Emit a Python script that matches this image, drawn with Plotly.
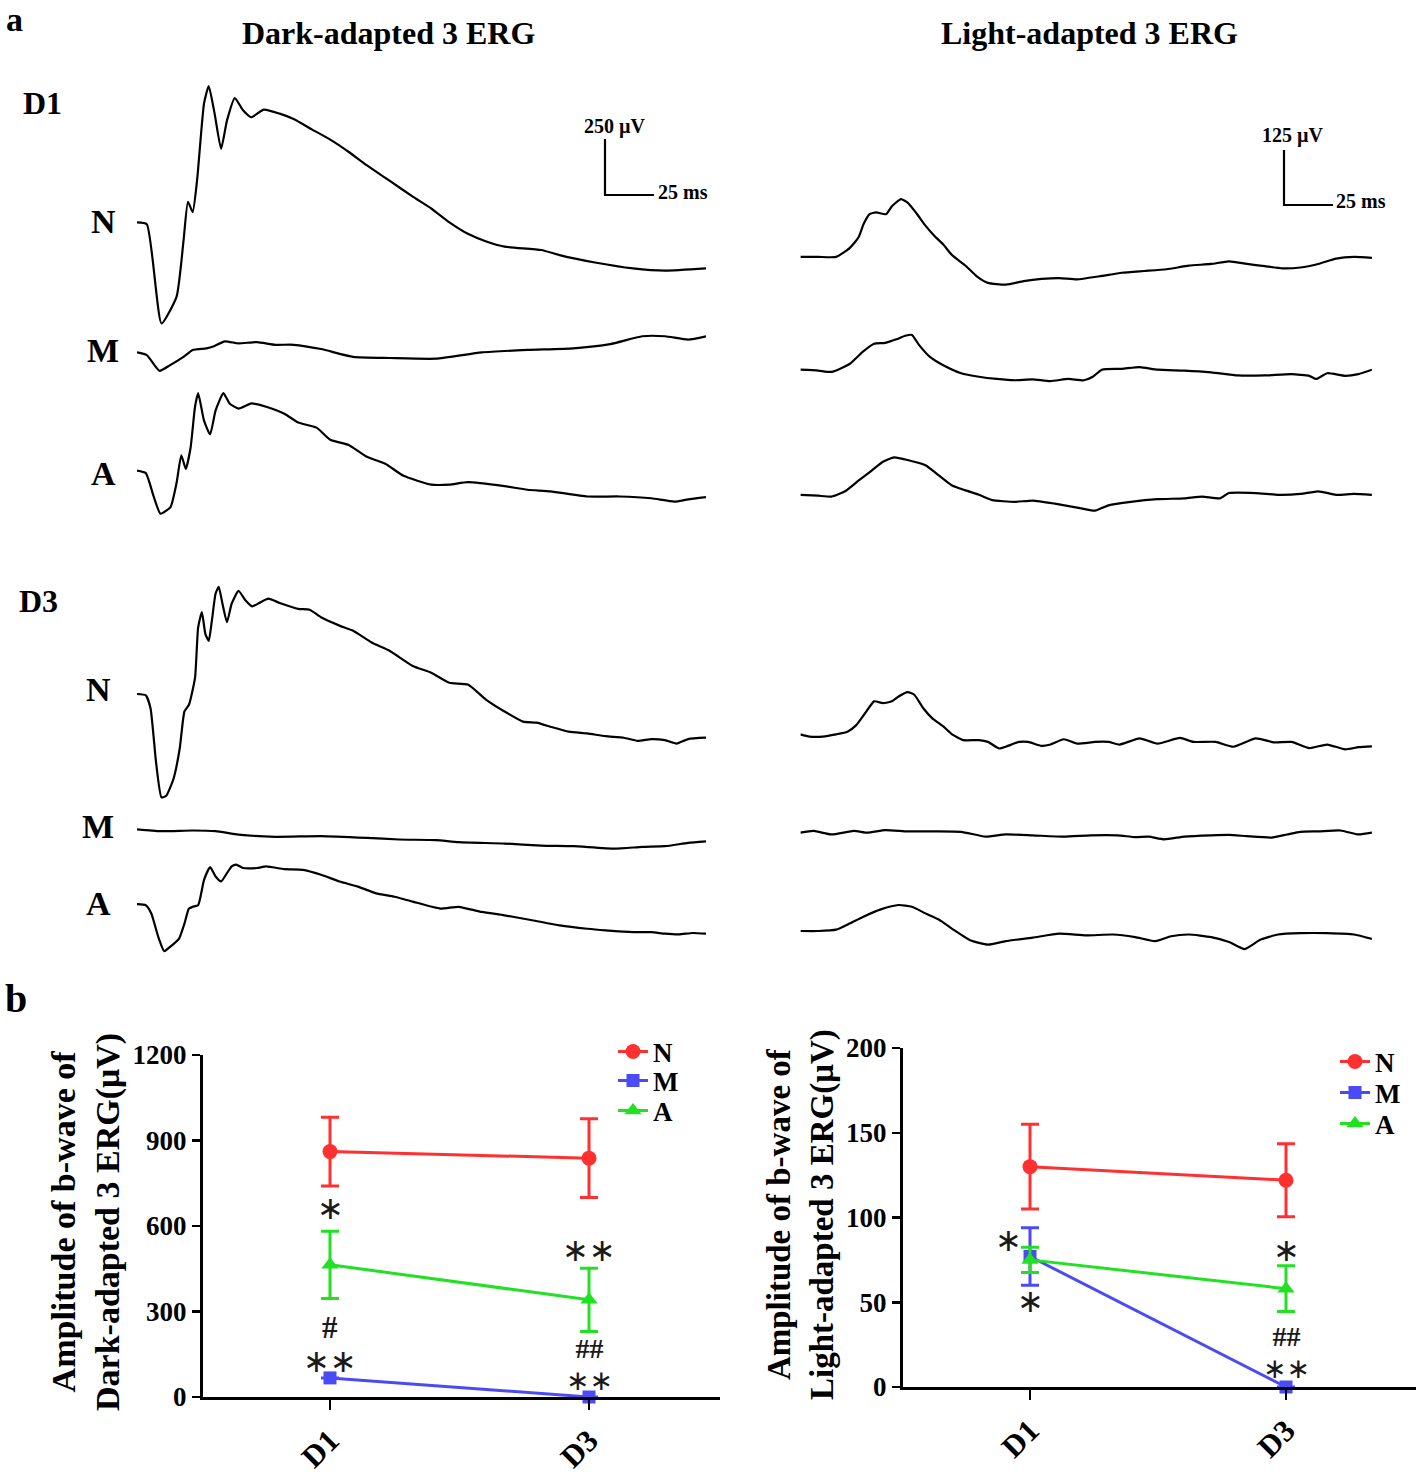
import plotly.graph_objects as go

W, H = 1418, 1475

# ------------------------------------------------------------------
# Panel a : ERG waveforms  (time in ms, amplitude in µV relative to trace start)
# ------------------------------------------------------------------
dark_d1_N_t = [0, 5.0, 12.5, 20.2, 23.7, 26.0, 28.4, 30.7, 34.2, 36.6, 39.6, 42.9, 45.9, 49.9, 54.1, 58.3, 64.7,
               72.8, 79.9, 89.2, 98.6, 107.9, 117.3, 129.0, 140.7, 150.1, 159.4, 168.8, 178.2, 187.5, 206.3,
               215.6, 234.4, 253.1, 269.4, 290.3]
dark_d1_N_v = [0, -8, -451, -331, -85, 92, 46, 192, 531, 608, 485, 328, 454, 554, 500, 469, 503, 485, 461, 415,
               369, 315, 254, 185, 115, 62, 0, -51, -85, -108, -123, -146, -180, -205, -215, -205]

dark_d1_M_t = [0, 5.0, 11.5, 16.7, 23.7, 28.4, 35.4, 38.9, 44.8, 51.8, 61.2, 70.5, 79.9, 93.9, 110.3, 129.0,
               152.5, 175.9, 199.2, 222.6, 241.4, 257.8, 269.4, 281.2, 290.3]
dark_d1_M_v = [0, -12, -82, -58, -20, 11, 18, 26, 49, 40, 46, 34, 34, 15, -20, -25, -28, 0, 11, 18, 37, 72, 72,
               57, 72]

dark_d1_A_t = [0, 4.5, 8.5, 12.0, 17.1, 20.2, 22.6, 24.9, 27.3, 29.6, 31.2, 34.2, 37.3, 40.1, 44.1, 47.2, 51.8,
               58.4, 65.9, 75.2, 82.2, 91.6, 98.6, 108.0, 117.3, 126.7, 136.0, 150.1, 159.4, 168.8, 187.5, 199.2,
               210.9, 229.7, 246.1, 262.4, 274.1, 281.2, 290.3]
dark_d1_A_v = [0, -11, -115, -192, -162, -54, 69, 8, 100, 285, 346, 223, 162, 269, 346, 300, 277, 300, 285, 254,
               215, 192, 138, 115, 62, 31, -23, -62, -62, -51, -69, -85, -92, -115, -115, -123, -138, -128, -118]

dark_d3_N_t = [0, 4.5, 6.9, 9.7, 12.5, 14.9, 18.6, 21.8, 24.2, 26.5, 29.6, 31.2, 33.1, 34.9, 36.6, 38.2, 40.1,
               41.7, 43.6, 45.9, 48.3, 51.8, 55.3, 58.8, 62.4, 67.0, 72.8, 82.2, 88.1, 93.9, 103.3, 110.3, 119.7,
               129.0, 140.7, 150.1, 159.4, 168.8, 178.2, 187.5, 196.9, 203.9, 210.9, 220.3, 229.7, 239.0, 248.4,
               255.4, 262.4, 269.4, 275.3, 281.2, 290.3]
dark_d3_N_v = [0, -6, -63, -303, -461, -454, -379, -243, -78, -48, 72, 297, 365, 267, 237, 327, 448, 478, 403,
               320, 403, 460, 418, 391, 406, 425, 406, 380, 376, 342, 305, 282, 230, 192, 125, 95, 50, 42, -26,
               -78, -123, -128, -146, -168, -176, -188, -195, -209, -201, -206, -221, -201, -195]

dark_d3_M_t = [0, 12.0, 28.4, 40.1, 51.8, 70.5, 93.9, 117.3, 133.7, 152.5, 164.1, 187.5, 206.3, 222.6, 243.7,
               257.8, 269.4, 281.2, 290.3]
dark_d3_M_v = [0, -8, -5, -8, -23, -33, -30, -38, -45, -48, -57, -63, -72, -75, -86, -78, -75, -60, -53]

dark_d3_A_t = [0, 4.5, 7.3, 10.9, 13.9, 16.7, 21.4, 24.2, 26.5, 28.4, 31.2, 34.2, 37.3, 40.1, 42.9, 45.9, 48.3,
               50.6, 54.1, 61.2, 65.9, 75.2, 84.6, 93.9, 103.3, 112.7, 122.0, 131.4, 140.7, 154.8, 164.1, 175.9,
               187.5, 201.6, 215.6, 229.7, 239.0, 253.1, 262.4, 269.4, 276.5, 283.5, 290.3]
dark_d3_A_v = [0, -5, -42, -147, -210, -192, -155, -87, -20, -12, -5, 108, 165, 123, 101, 138, 168, 176, 161,
               161, 168, 156, 153, 131, 101, 78, 48, 33, 11, -20, -12, -35, -50, -72, -95, -110, -117, -125,
               -125, -132, -135, -129, -132]

light_d1_N_t = [0, 9.1, 18.2, 25.1, 29.6, 32.3, 35.3, 38.7, 43.7, 46.7, 51.3, 54.7, 59.2, 63.8, 68.3, 72.9,
                77.4, 84.3, 90.0, 95.7, 104.8, 113.9, 123.0, 132.1, 141.2, 152.6, 164.0, 175.4, 186.8, 198.2,
                209.6, 218.7, 227.8, 236.9, 246.0, 255.1, 264.2, 273.3, 282.5, 291.6]
light_d1_N_v = [0, 0, 0, 20, 44, 75, 97, 101, 97, 115, 131, 123, 99, 71, 48, 28, 4, -20, -44, -59, -63, -55,
                -50, -48, -51, -44, -36, -32, -28, -20, -16, -10, -16, -21, -26, -24, -16, -4, 0, -2]

light_d1_M_t = [0, 9.1, 15.9, 25.1, 31.9, 37.6, 43.3, 49.0, 53.5, 56.9, 60.4, 66.1, 72.9, 82.0, 91.1, 100.2,
                109.3, 118.5, 127.6, 136.7, 144.6, 149.2, 153.8, 164.0, 173.1, 182.2, 195.9, 209.6, 223.2,
                236.9, 250.6, 259.7, 263.1, 268.8, 277.9, 284.7, 291.6]
light_d1_M_v = [0, -2, -5, 13, 41, 59, 61, 69, 77, 79, 57, 29, 10, -8, -16, -21, -24, -22, -26, -21, -24, -16,
                0, 2, 6, 0, -2, -6, -13, -13, -10, -14, -21, -8, -14, -10, 0]

light_d1_A_t = [0, 9.1, 15.9, 22.8, 29.6, 36.4, 42.1, 47.8, 54.7, 63.8, 70.6, 77.4, 84.3, 91.1, 97.9, 109.3,
                118.5, 129.8, 141.2, 150.3, 157.2, 168.6, 182.2, 195.9, 205.0, 214.1, 218.7, 232.3, 243.7,
                255.1, 264.2, 273.3, 282.5, 291.6]
light_d1_A_v = [0, -2, -4, 8, 32, 55, 75, 85, 79, 67, 44, 21, 10, 0, -12, -16, -13, -20, -29, -36, -24, -16,
                -10, -8, -4, -8, 4, 4, 0, 2, 8, 0, 2, 0]

light_d3_N_t = [0, 4.6, 11.4, 18.2, 24.0, 28.5, 33.0, 37.6, 42.1, 46.7, 50.1, 54.7, 58.1, 62.6, 67.2, 72.9,
                77.4, 83.1, 91.1, 95.7, 101.4, 104.8, 111.6, 116.2, 123.0, 127.6, 134.4, 141.2, 150.3, 157.2,
                162.9, 173.1, 182.2, 193.6, 200.5, 211.8, 220.9, 232.3, 241.5, 250.6, 259.7, 268.8, 277.9,
                284.7, 291.6]
light_d3_N_v = [0, -5, -5, 0, 6, 21, 48, 75, 71, 75, 86, 96, 90, 60, 37, 18, 0, -13, -13, -17, -32, -28, -17,
                -17, -26, -23, -11, -21, -17, -17, -23, -9, -21, -8, -17, -17, -28, -9, -18, -17, -31, -23,
                -34, -29, -27]

light_d3_M_t = [0, 6.8, 15.9, 27.3, 34.2, 43.3, 54.7, 68.3, 82.0, 94.5, 104.8, 118.5, 134.4, 148.1, 161.7,
                170.8, 177.7, 185.6, 195.9, 209.6, 218.7, 227.8, 240.3, 248.3, 255.1, 264.2, 275.6, 284.7, 291.6]
light_d3_M_v = [0, 4, -4, 4, 0, 6, 3, 3, 2, -9, -4, -6, -9, -6, -6, -10, -9, -15, -9, -6, -5, -8, -11, -4, 2,
                3, 5, -4, 0]

light_d3_A_t = [0, 9.1, 18.2, 25.1, 31.9, 41.0, 50.1, 56.9, 63.8, 70.6, 77.4, 86.6, 95.7, 104.8, 118.5,
                132.1, 145.8, 159.5, 170.8, 181.1, 189.1, 198.2, 209.6, 218.7, 226.7, 234.6, 243.7, 255.1,
                268.8, 282.5, 291.6]
light_d3_A_v = [0, 0, 3, 17, 32, 49, 59, 55, 40, 26, 5, -21, -31, -23, -15, -6, -10, -8, -14, -23, -12, -8,
                -14, -25, -41, -20, -8, -5, -5, -8, -18]

# calibration bars
dark_bar_uv, dark_bar_ms = 250, 25
light_bar_uv, light_bar_ms = 125, 25

# ------------------------------------------------------------------
# Panel b : b-wave amplitudes (µV), mean and error
# ------------------------------------------------------------------
days = ["D1", "D3"]
group_names = ["N", "M", "A"]

dark_N_mean, dark_N_err = [861, 838], [121, 138]
dark_M_mean, dark_M_err = [67, 0], [0, 0]
dark_A_mean, dark_A_err = [464, 341], [118, 111]

light_N_mean, light_N_err = [130, 122], [25, 21.5]
light_M_mean, light_M_err = [77, 0], [17, 0]
light_A_mean, light_A_err = [75, 58], [7.5, 13.5]

dark_yticks = [0, 300, 600, 900, 1200]
light_yticks = [0, 50, 100, 150, 200]

# significance marks: (lines of text, day index, amplitude level of the block centre)
dark_marks = [(["∗"], 0, 663), (["#"], 0, 245), (["∗∗"], 0, 128), (["∗∗"], 1, 516), (["##", "∗∗"], 1, 113)]
light_marks = [(["∗"], 0, 51), (["∗"], 1, 81), (["##", "∗∗"], 1, 20)]
light_side_mark = (["∗"], 0, 87)

# ------------------------------------------------------------------
# Layout helpers (pixel positions in a 1418x1475 canvas)
# ------------------------------------------------------------------
def fx(px):
    return px / W


def fy(py):
    return 1 - py / H


SERIF = "Liberation Serif, Times New Roman, serif"
PX_PER_MS = 1.96
DARK_X0, LIGHT_X0 = 137.0, 800.4
DARK_UV_PER_PX, LIGHT_UV_PER_PX = 4.46, 2.27
HALF = 150  # half height (px) of each trace strip

fig = go.Figure()
layout = dict(
    width=W, height=H, margin=dict(l=0, r=0, t=0, b=0, pad=0, autoexpand=False),
    paper_bgcolor="white", plot_bgcolor="rgba(0,0,0,0)",
    showlegend=True, template="none",
)

layout["xaxis"] = dict(domain=[fx(DARK_X0), fx(DARK_X0 + 290.3 * PX_PER_MS)], range=[0, 290.3],
                       visible=False, anchor="y", fixedrange=True, automargin=False)
layout["xaxis2"] = dict(domain=[fx(LIGHT_X0), fx(LIGHT_X0 + 291.6 * PX_PER_MS)], range=[0, 291.6],
                        visible=False, anchor="y7", fixedrange=True, automargin=False)

trace_specs = [
    ("x", DARK_UV_PER_PX, 222.4, dark_d1_N_t, dark_d1_N_v),
    ("x", DARK_UV_PER_PX, 352.4, dark_d1_M_t, dark_d1_M_v),
    ("x", DARK_UV_PER_PX, 470.7, dark_d1_A_t, dark_d1_A_v),
    ("x", DARK_UV_PER_PX, 694.0, dark_d3_N_t, dark_d3_N_v),
    ("x", DARK_UV_PER_PX, 829.4, dark_d3_M_t, dark_d3_M_v),
    ("x", DARK_UV_PER_PX, 904.1, dark_d3_A_t, dark_d3_A_v),
    ("x2", LIGHT_UV_PER_PX, 256.9, light_d1_N_t, light_d1_N_v),
    ("x2", LIGHT_UV_PER_PX, 369.7, light_d1_M_t, light_d1_M_v),
    ("x2", LIGHT_UV_PER_PX, 494.8, light_d1_A_t, light_d1_A_v),
    ("x2", LIGHT_UV_PER_PX, 734.4, light_d3_N_t, light_d3_N_v),
    ("x2", LIGHT_UV_PER_PX, 832.7, light_d3_M_t, light_d3_M_v),
    ("x2", LIGHT_UV_PER_PX, 931.0, light_d3_A_t, light_d3_A_v),
]

for i, (xa, k, base, t, v) in enumerate(trace_specs):
    yid = "y" if i == 0 else f"y{i + 1}"
    key = "yaxis" if i == 0 else f"yaxis{i + 1}"
    layout[key] = dict(domain=[fy(base + HALF), fy(base - HALF)], range=[-HALF * k, HALF * k],
                       visible=False, anchor=xa, fixedrange=True, automargin=False)
    fig.add_trace(go.Scatter(x=t, y=v, xaxis=xa, yaxis=yid, mode="lines",
                             line=dict(color="black", width=2.2, shape="spline", smoothing=0.5),
                             showlegend=False, hoverinfo="skip"))


# calibration bars, drawn in the coordinates of the first trace of each column
def add_bar(xa, yid, corner_px, x0px, base, k, uv, ms):
    t0 = (corner_px[0] - x0px) / PX_PER_MS
    v0 = (base - corner_px[1]) * k
    fig.add_trace(go.Scatter(x=[t0, t0, t0 + ms], y=[v0 + uv, v0, v0], xaxis=xa, yaxis=yid, mode="lines",
                             line=dict(color="black", width=2.2), showlegend=False, hoverinfo="skip"))


add_bar("x", "y", (605, 195), DARK_X0, 222.4, DARK_UV_PER_PX, dark_bar_uv, dark_bar_ms)
add_bar("x2", "y7", (1284, 205), LIGHT_X0, 256.9, LIGHT_UV_PER_PX, light_bar_uv, light_bar_ms)

# ------------------------------------------------------------------
# Panel b charts
# ------------------------------------------------------------------
colors = {"N": "#FF3030", "M": "#4B4BF5", "A": "#22E022"}
symbols = {"N": "circle", "M": "square", "A": "triangle-up"}
msize = {"N": 15, "M": 13, "A": 15}

dark_series = {"N": (dark_N_mean, dark_N_err), "M": (dark_M_mean, dark_M_err), "A": (dark_A_mean, dark_A_err)}
light_series = {"N": (light_N_mean, light_N_err), "M": (light_M_mean, light_M_err),
                "A": (light_A_mean, light_A_err)}

# one legend box per entry so that the entries can sit as close together as in the original
legend_ids = {("dark", "N"): "legend", ("dark", "M"): "legend3", ("dark", "A"): "legend4",
              ("light", "N"): "legend2", ("light", "M"): "legend5", ("light", "A"): "legend6"}
legend_pos = {"dark": (613, [1052, 1081, 1111]), "light": (1335, [1062, 1093, 1124])}

for panel, xa, ya, series in [("dark", "x3", "y13", dark_series), ("light", "x4", "y14", light_series)]:
    for g in group_names:
        mean, err = series[g]
        fig.add_trace(go.Scatter(
            x=days, y=mean, name=g, xaxis=xa, yaxis=ya, legend=legend_ids[(panel, g)],
            mode="lines+markers", cliponaxis=False,
            line=dict(color=colors[g], width=3),
            marker=dict(symbol=symbols[g], size=msize[g], color=colors[g]),
            error_y=dict(type="data", array=err, color=colors[g], thickness=3, width=9),
        ))

axis_common = dict(showline=True, linecolor="black", linewidth=3, ticks="outside", tickcolor="black",
                   tickwidth=2.5, showgrid=False, zeroline=False, fixedrange=True, automargin=False)

# dark chart: y axis at x=203, x axis to 720, D1 at 330, D3 at 589, 0 at y=1397, 1200 at y=1055
layout["xaxis3"] = dict(axis_common, domain=[fx(203), fx(720)], type="category",
                        range=[(203 - 330) / 259, (720 - 330) / 259], anchor="y13", ticklen=10,
                        tickangle=-45, tickfont=dict(family=SERIF, size=31, color="black", weight="bold"))
layout["yaxis13"] = dict(axis_common, domain=[fy(1397), fy(1055)], range=[0, 1200], anchor="x3",
                         tickvals=dark_yticks, ticklen=8,
                         tickfont=dict(family=SERIF, size=27, color="black", weight="bold"))
# light chart: y axis at x=903, x axis to 1416, D1 at 1030, D3 at 1286, 0 at y=1387, 200 at y=1048
layout["xaxis4"] = dict(axis_common, domain=[fx(903), fx(1416)], type="category",
                        range=[(903 - 1030) / 256, (1416 - 1030) / 256], anchor="y14", ticklen=10,
                        tickangle=-45, tickfont=dict(family=SERIF, size=31, color="black", weight="bold"))
layout["yaxis14"] = dict(axis_common, domain=[fy(1387), fy(1048)], range=[0, 200], anchor="x4",
                         tickvals=light_yticks, ticklen=8,
                         tickfont=dict(family=SERIF, size=27, color="black", weight="bold"))

legend_font = dict(family=SERIF, size=27, color="black", weight="bold")
for panel, (lx, lys) in legend_pos.items():
    for g, ly in zip(group_names, lys):
        layout[legend_ids[(panel, g)]] = dict(
            x=fx(lx), y=fy(ly), xanchor="left", yanchor="middle", font=legend_font,
            bgcolor="rgba(0,0,0,0)", borderwidth=0, tracegroupgap=0, itemwidth=30)

# ------------------------------------------------------------------
# Text
# ------------------------------------------------------------------
ann = []


def text(s, x, y, size, xanchor="center", family=SERIF, bold=True, **kw):
    ann.append(dict(text=s, x=fx(x), y=fy(y), xref="paper", yref="paper", showarrow=False,
                    xanchor=xanchor, yanchor="middle",
                    font=dict(family=family, size=size, color="black", weight="bold" if bold else "normal"),
                    **kw))


text("a", 14, 19, 34)
text("b", 16, 998, 40)
text("Dark-adapted 3 ERG", 388, 33, 32)
text("Light-adapted 3 ERG", 1089, 33, 32)
text("D1", 42, 103, 32)
text("D3", 38, 601, 32)
for lbl, yy in zip(group_names, [222, 350, 473]):
    text(lbl, 103, yy, 34)
for lbl, yy in zip(group_names, [690, 826, 903]):
    text(lbl, 98, yy, 34)

text(f"{dark_bar_uv} µV", 615, 127, 20)
text(f"{dark_bar_ms} ms", 656, 192, 20, xanchor="left")
text(f"{light_bar_uv} µV", 1293, 136, 20)
text(f"{light_bar_ms} ms", 1334, 201, 20, xanchor="left")

text("Amplitude of b-wave of<br>Dark-adapted 3 ERG(μV)", 86, 1222, 34, textangle=-90)
text("Amplitude of b-wave of<br>Light-adapted 3 ERG(μV)", 801, 1215, 33, textangle=-90)


def styled(line, stacked):
    if "∗" in line:
        size = 28 if stacked else 32
        return f"<span style='font-family:DejaVu Sans;font-size:{size}px;font-weight:normal'>{line}</span>"
    size = 28 if stacked else 31
    return f"<span style='font-family:Liberation Serif;font-size:{size}px;font-weight:bold'>{line}</span>"


MARK_BASE = "DejaVu Sans"


def mark(lines, di, lvl, xr, yr, xshift=0):
    stacked = len(lines) > 1
    # base font sets the line pitch of stacked marks (about 32 px)
    ann.append(dict(text="<br>".join(styled(l, stacked) for l in lines), x=di, y=lvl, xref=xr, yref=yr,
                    showarrow=False, xshift=xshift,
                    font=dict(family=MARK_BASE, size=24.6 if stacked else 31, color="#1a1a1a")))


for lines, di, lvl in dark_marks:
    mark(lines, di, lvl, "x3", "y13")
for lines, di, lvl in light_marks:
    mark(lines, di, lvl, "x4", "y14")
lines, di, lvl = light_side_mark
mark(lines, di, lvl, "x4", "y14", xshift=-22)

layout["annotations"] = ann
fig.update_layout(**layout)
fig.write_html("out.html", config={"displayModeBar": False, "staticPlot": True},
               post_script="document.body.style.margin='0';document.body.style.overflow='hidden';")
